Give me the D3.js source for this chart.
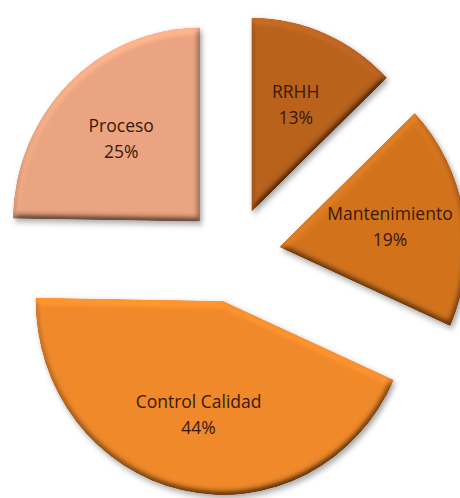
<!DOCTYPE html>
<html>
<head>
<meta charset="utf-8">
<script src="https://cdn.jsdelivr.net/npm/d3@7"></script>
<style>
  html, body { margin: 0; padding: 0; background: #fff; }
  svg { display: block; }
</style>
</head>
<body>
<svg id="chart" width="460" height="498"></svg>
<script>
// Share of work by area (exploded pie)
const categories = ["RRHH", "Mantenimiento", "Control Calidad", "Proceso"];
const values = [13, 19, 44, 25];
const colors = ["#b9621f", "#d2741f", "#f08a2b", "#eaa581"];

const W = 460, H = 498;
const cx = 233, cy = 255;      // pie centre
const R = 194;                 // vertical radius
const sx = 0.965;              // horizontal squash of the pie
const explode = 47;            // distance each slice is pulled out
const labelR = 0.6 * R;

const svg = d3.select("#chart");

// soft bevel + drop shadow for each slice
const defs = svg.append("defs");
const f = defs.append("filter").attr("id", "bevel")
  .attr("x", "-10%").attr("y", "-10%").attr("width", "125%").attr("height", "125%");
f.append("feGaussianBlur").attr("in", "SourceAlpha").attr("stdDeviation", 3.5).attr("result", "bump");
const light = f.append("feDiffuseLighting").attr("in", "bump")
  .attr("surfaceScale", 5).attr("diffuseConstant", 1)
  .attr("lighting-color", "#ffffff").attr("result", "diff");
light.append("feDistantLight").attr("azimuth", 255).attr("elevation", 55);
f.append("feComposite").attr("in", "SourceGraphic").attr("in2", "diff")
  .attr("operator", "arithmetic").attr("k1", 1.22).attr("k2", 0).attr("k3", 0).attr("k4", 0)
  .attr("result", "lit");
f.append("feComposite").attr("in", "lit").attr("in2", "SourceAlpha")
  .attr("operator", "in").attr("result", "litIn");
f.append("feGaussianBlur").attr("in", "SourceAlpha").attr("stdDeviation", 3).attr("result", "sb");
f.append("feOffset").attr("in", "sb").attr("dx", 2).attr("dy", 3).attr("result", "so");
f.append("feFlood").attr("flood-color", "#000").attr("flood-opacity", 0.35).attr("result", "sc");
f.append("feComposite").attr("in", "sc").attr("in2", "so").attr("operator", "in").attr("result", "shadow");
const m = f.append("feMerge");
m.append("feMergeNode").attr("in", "shadow");
m.append("feMergeNode").attr("in", "litIn");

const data = categories.map((c, i) => ({ name: c, value: values[i], color: colors[i] }));

const pie = d3.pie().sort(null).value(d => d.value).startAngle(0).endAngle(2 * Math.PI);
const arcs = pie(data);

const arc = d3.arc().innerRadius(0).outerRadius(R);
const labelArc = d3.arc().innerRadius(labelR).outerRadius(labelR);

const offset = a => {
  const mid = (a.startAngle + a.endAngle) / 2;
  return [cx + explode * Math.sin(mid), cy - explode * Math.cos(mid)];
};

const slices = svg.append("g");
slices.selectAll("g.slice")
  .data(arcs)
  .join("g")
  .attr("class", "slice")
  .attr("transform", a => {
    const [ox, oy] = offset(a);
    return `translate(${ox},${oy}) scale(${sx},1)`;
  })
  .append("path")
  .attr("d", arc)
  .attr("fill", a => a.data.color)
  .attr("filter", "url(#bevel)");

const labels = svg.append("g")
  .attr("font-family", "'Open Sans', sans-serif")
  .attr("font-size", 17.5)
  .attr("fill", "#3a1905")
  .attr("text-anchor", "middle");

arcs.forEach(a => {
  const [ox, oy] = offset(a);
  const [lx, ly] = labelArc.centroid(a);
  const x = ox + lx * sx, y = oy + ly;
  const t = labels.append("text");
  t.append("tspan").attr("x", x).attr("y", y - 7).text(a.data.name);
  t.append("tspan").attr("x", x).attr("y", y + 19).text(a.data.value + "%");
});
</script>
</body>
</html>
